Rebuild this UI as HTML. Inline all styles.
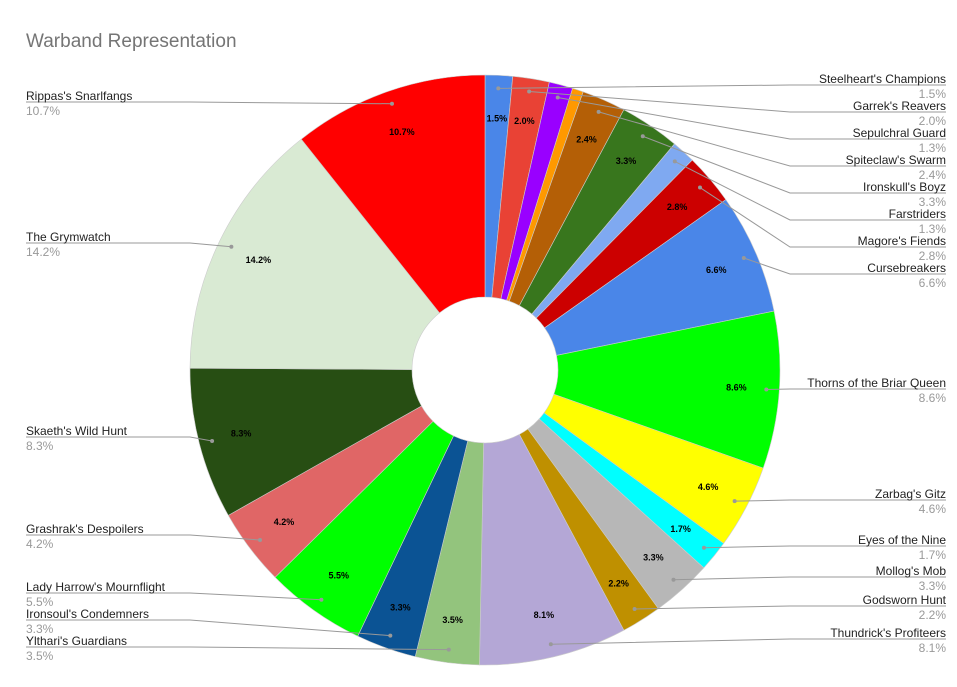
<!DOCTYPE html>
<html><head><meta charset="utf-8"><style>
body{margin:0;background:#fff;font-family:"Liberation Sans",Arial,sans-serif}
</style></head><body>
<svg id="chart" width="957" height="682" xmlns="http://www.w3.org/2000/svg">
<rect width="957" height="682" fill="#fff"/>
<text x="26" y="47" font-size="19" fill="#757575">Warband Representation</text>
<g id="slices"></g><g id="leaders"></g><g id="labels"></g>
</svg>
<script>
const names=["Steelheart's Champions","Garrek's Reavers","Sepulchral Guard","","Spiteclaw's Swarm","Ironskull's Boyz","Farstriders","Magore's Fiends","Cursebreakers","Thorns of the Briar Queen","Zarbag's Gitz","Eyes of the Nine","Mollog's Mob","Godsworn Hunt","Thundrick's Profiteers","Ylthari's Guardians","Ironsoul's Condemners","Lady Harrow's Mournflight","Grashrak's Despoilers","Skaeth's Wild Hunt","The Grymwatch","Rippas's Snarlfangs"];
const values=[1.5,2.0,1.3,0.6,2.4,3.3,1.3,2.8,6.6,8.6,4.6,1.7,3.3,2.2,8.1,3.5,3.3,5.5,4.2,8.3,14.2,10.7];
const colors=["#4a86e8","#e94235","#9900ff","#ff9900","#b45f06","#38761d","#7fa9f1","#cc0000","#4a86e8","#00ff00","#ffff00","#00ffff","#b7b7b7","#bf9000","#b4a7d6","#93c47d","#0b5394","#00ff00","#e06666","#274e13","#d9ead3","#ff0000"];
const labelY=[79,106,133,null,160,187,214,241,268,383,494,540,571,600,633,641,614,587,529,431,237,96];
const cx=485,cy=370,R=295,r0=73;
const NS="http://www.w3.org/2000/svg";
const total=values.reduce((a,b)=>a+b,0);
function pt(a,rad){return [cx+rad*Math.sin(a),cy-rad*Math.cos(a)];}
function mk(tag,attrs,parent){const e=document.createElementNS(NS,tag);for(const k in attrs)e.setAttribute(k,attrs[k]);document.getElementById(parent).appendChild(e);return e;}
let cum=0;
values.forEach((v,i)=>{
 const a0=cum/total*2*Math.PI;cum+=v;const a1=cum/total*2*Math.PI;
 const p0=pt(a0,R),p1=pt(a1,R),q1=pt(a1,r0),q0=pt(a0,r0);const lg=(a1-a0)>Math.PI?1:0;
 const p=mk('path',{d:`M${p0}A${R},${R} 0 ${lg} 1 ${p1}L${q1}A${r0},${r0} 0 ${lg} 0 ${q0}Z`,fill:colors[i],stroke:'#ccc','stroke-width':0.6},'slices');
 
 
 const am=(a0+a1)/2;
 if(v>=1.5){const tp=pt(am,252);const t=mk('text',{x:tp[0],y:tp[1]+3,'font-size':9,'font-weight':'bold','text-anchor':'middle',fill:'#000'},'labels');t.textContent=v.toFixed(1)+'%';
  }
 if(names[i]&&labelY[i]!=null){
  const right=Math.sin(am)>0;const d=pt(am,282);const ly=labelY[i]+6;
  const lx=right?790:190;const ex=right?946:26;
  const pl=mk('polyline',{points:`${d} ${lx},${ly} ${ex},${ly}`,fill:'none',stroke:'#999','stroke-width':1},'leaders');
  
  const c=mk('circle',{cx:d[0],cy:d[1],r:2,fill:'#999'},'leaders');
  
  const anc=right?'end':'start';const tx=right?946:26;
  const t1=mk('text',{x:tx,y:labelY[i]+4,'font-size':12,fill:'#222','text-anchor':anc},'labels');t1.textContent=names[i];
  
  const t2=mk('text',{x:tx,y:labelY[i]+19,'font-size':12,fill:'#999','text-anchor':anc},'labels');t2.textContent=v.toFixed(1)+'%';
  
 }
});
</script>
</body></html>
